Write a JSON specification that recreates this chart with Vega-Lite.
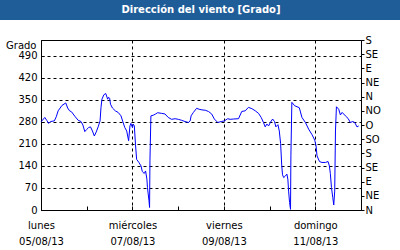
{
  "$schema": "https://vega.github.io/schema/vega-lite/v6.json",
  "padding": 0,
  "background": "white",
  "bounds": "flush",
  "center": true,
  "spacing": 20,
  "datasets": {
    "viento": [
      {"t": "2013-08-05T00:00", "v": 280}, {"t": "2013-08-05T02:00", "v": 294}, {"t": "2013-08-05T03:00", "v": 285},
      {"t": "2013-08-05T04:00", "v": 275}, {"t": "2013-08-05T05:00", "v": 281}, {"t": "2013-08-05T07:00", "v": 283},
      {"t": "2013-08-05T08:00", "v": 296}, {"t": "2013-08-05T09:00", "v": 315}, {"t": "2013-08-05T11:00", "v": 332},
      {"t": "2013-08-05T13:00", "v": 340}, {"t": "2013-08-05T14:00", "v": 324}, {"t": "2013-08-05T15:00", "v": 315},
      {"t": "2013-08-05T16:00", "v": 312}, {"t": "2013-08-05T18:00", "v": 296}, {"t": "2013-08-05T19:30", "v": 285},
      {"t": "2013-08-05T21:00", "v": 281}, {"t": "2013-08-05T22:00", "v": 270}, {"t": "2013-08-05T23:00", "v": 249},
      {"t": "2013-08-06T00:00", "v": 256}, {"t": "2013-08-06T01:00", "v": 262}, {"t": "2013-08-06T02:00", "v": 264},
      {"t": "2013-08-06T03:00", "v": 251}, {"t": "2013-08-06T04:00", "v": 235}, {"t": "2013-08-06T05:00", "v": 248},
      {"t": "2013-08-06T06:00", "v": 264}, {"t": "2013-08-06T07:00", "v": 283}, {"t": "2013-08-06T07:30", "v": 326},
      {"t": "2013-08-06T08:00", "v": 352}, {"t": "2013-08-06T09:00", "v": 366}, {"t": "2013-08-06T10:00", "v": 370},
      {"t": "2013-08-06T11:00", "v": 352}, {"t": "2013-08-06T11:30", "v": 358}, {"t": "2013-08-06T12:00", "v": 355},
      {"t": "2013-08-06T12:30", "v": 336}, {"t": "2013-08-06T13:30", "v": 324}, {"t": "2013-08-06T15:00", "v": 315},
      {"t": "2013-08-06T16:30", "v": 310}, {"t": "2013-08-06T18:00", "v": 299}, {"t": "2013-08-06T19:00", "v": 280},
      {"t": "2013-08-06T20:00", "v": 262}, {"t": "2013-08-06T21:00", "v": 251}, {"t": "2013-08-06T22:00", "v": 220},
      {"t": "2013-08-06T22:42", "v": 267}, {"t": "2013-08-06T23:12", "v": 275}, {"t": "2013-08-07T00:00", "v": 262},
      {"t": "2013-08-07T00:24", "v": 273}, {"t": "2013-08-07T01:00", "v": 267}, {"t": "2013-08-07T01:36", "v": 209},
      {"t": "2013-08-07T02:12", "v": 161}, {"t": "2013-08-07T03:24", "v": 151}, {"t": "2013-08-07T04:30", "v": 140},
      {"t": "2013-08-07T05:12", "v": 122}, {"t": "2013-08-07T06:12", "v": 116}, {"t": "2013-08-07T06:54", "v": 124},
      {"t": "2013-08-07T07:36", "v": 98}, {"t": "2013-08-07T07:54", "v": 71}, {"t": "2013-08-07T08:42", "v": 29},
      {"t": "2013-08-07T09:00", "v": 8}, {"t": "2013-08-07T09:12", "v": 156}, {"t": "2013-08-07T09:42", "v": 299},
      {"t": "2013-08-07T10:54", "v": 301}, {"t": "2013-08-07T12:12", "v": 305}, {"t": "2013-08-07T13:12", "v": 309},
      {"t": "2013-08-07T15:18", "v": 307}, {"t": "2013-08-07T17:06", "v": 305}, {"t": "2013-08-07T18:48", "v": 294},
      {"t": "2013-08-07T20:36", "v": 288}, {"t": "2013-08-07T22:24", "v": 290}, {"t": "2013-08-08T00:06", "v": 288},
      {"t": "2013-08-08T01:48", "v": 285}, {"t": "2013-08-08T03:36", "v": 281}, {"t": "2013-08-08T05:24", "v": 278},
      {"t": "2013-08-08T06:18", "v": 283}, {"t": "2013-08-08T06:48", "v": 299}, {"t": "2013-08-08T08:00", "v": 310},
      {"t": "2013-08-08T09:42", "v": 323}, {"t": "2013-08-08T11:00", "v": 320}, {"t": "2013-08-08T12:30", "v": 318},
      {"t": "2013-08-08T14:12", "v": 317}, {"t": "2013-08-08T15:54", "v": 313}, {"t": "2013-08-08T17:36", "v": 305},
      {"t": "2013-08-08T19:00", "v": 289}, {"t": "2013-08-08T20:48", "v": 278}, {"t": "2013-08-08T22:36", "v": 281},
      {"t": "2013-08-09T00:18", "v": 283}, {"t": "2013-08-09T02:00", "v": 290}, {"t": "2013-08-09T03:18", "v": 288},
      {"t": "2013-08-09T05:00", "v": 289}, {"t": "2013-08-09T07:42", "v": 290}, {"t": "2013-08-09T09:24", "v": 313},
      {"t": "2013-08-09T11:12", "v": 315}, {"t": "2013-08-09T12:54", "v": 326}, {"t": "2013-08-09T14:42", "v": 322},
      {"t": "2013-08-09T16:30", "v": 315}, {"t": "2013-08-09T18:12", "v": 307}, {"t": "2013-08-09T19:36", "v": 294},
      {"t": "2013-08-09T20:48", "v": 278}, {"t": "2013-08-09T21:42", "v": 264}, {"t": "2013-08-09T22:36", "v": 273},
      {"t": "2013-08-09T23:30", "v": 267}, {"t": "2013-08-10T00:24", "v": 278}, {"t": "2013-08-10T01:36", "v": 289},
      {"t": "2013-08-10T02:36", "v": 281}, {"t": "2013-08-10T03:18", "v": 264}, {"t": "2013-08-10T04:24", "v": 271},
      {"t": "2013-08-10T05:06", "v": 251}, {"t": "2013-08-10T05:48", "v": 211}, {"t": "2013-08-10T06:24", "v": 140},
      {"t": "2013-08-10T06:48", "v": 112}, {"t": "2013-08-10T07:24", "v": 103}, {"t": "2013-08-10T08:18", "v": 108},
      {"t": "2013-08-10T09:06", "v": 114}, {"t": "2013-08-10T09:36", "v": 98}, {"t": "2013-08-10T10:00", "v": 60},
      {"t": "2013-08-10T10:30", "v": 24}, {"t": "2013-08-10T11:00", "v": 2}, {"t": "2013-08-10T11:12", "v": 172},
      {"t": "2013-08-10T11:42", "v": 342}, {"t": "2013-08-10T13:12", "v": 331}, {"t": "2013-08-10T14:24", "v": 328},
      {"t": "2013-08-10T15:36", "v": 325}, {"t": "2013-08-10T17:00", "v": 294}, {"t": "2013-08-10T18:48", "v": 278},
      {"t": "2013-08-10T20:30", "v": 257}, {"t": "2013-08-10T22:18", "v": 239}, {"t": "2013-08-10T23:42", "v": 222},
      {"t": "2013-08-11T00:24", "v": 204}, {"t": "2013-08-11T00:54", "v": 172}, {"t": "2013-08-11T02:12", "v": 154},
      {"t": "2013-08-11T03:30", "v": 151}, {"t": "2013-08-11T05:18", "v": 151}, {"t": "2013-08-11T06:42", "v": 154},
      {"t": "2013-08-11T07:24", "v": 140}, {"t": "2013-08-11T07:54", "v": 116}, {"t": "2013-08-11T08:30", "v": 71},
      {"t": "2013-08-11T09:12", "v": 39}, {"t": "2013-08-11T09:42", "v": 16}, {"t": "2013-08-11T10:12", "v": 60},
      {"t": "2013-08-11T10:36", "v": 251}, {"t": "2013-08-11T11:06", "v": 328}, {"t": "2013-08-11T12:18", "v": 320},
      {"t": "2013-08-11T13:12", "v": 302}, {"t": "2013-08-11T14:06", "v": 310}, {"t": "2013-08-11T14:54", "v": 305},
      {"t": "2013-08-11T15:48", "v": 299}, {"t": "2013-08-11T17:12", "v": 291}, {"t": "2013-08-11T18:24", "v": 278},
      {"t": "2013-08-11T19:42", "v": 281}, {"t": "2013-08-11T20:42", "v": 278}, {"t": "2013-08-11T21:54", "v": 264},
      {"t": "2013-08-11T22:48", "v": 267}
    ]
  },
  "vconcat": [
    {
      "width": 402,
      "height": 20,
      "view": {"fill": "#1f5d99", "stroke": null},
      "data": {"values": [{"titulo": "Dirección del viento [Grado]"}]},
      "mark": {"type": "text", "color": "white", "font": "DejaVu Sans", "fontWeight": "bold", "fontSize": 10, "baseline": "middle", "align": "center"},
      "encoding": {"text": {"field": "titulo"}}
    },
    {
      "width": 320,
      "height": 170,
      "data": {"name": "viento"},
      "encoding": {
        "x": {
          "field": "t", "type": "temporal",
          "scale": {"domain": [{"year": 2013, "month": 8, "date": 5}, {"year": 2013, "month": 8, "date": 12}], "nice": false},
          "axis": {
            "title": null,
            "values": [
              {"year": 2013, "month": 8, "date": 5}, {"year": 2013, "month": 8, "date": 6},
              {"year": 2013, "month": 8, "date": 7}, {"year": 2013, "month": 8, "date": 8},
              {"year": 2013, "month": 8, "date": 9}, {"year": 2013, "month": 8, "date": 10},
              {"year": 2013, "month": 8, "date": 11}, {"year": 2013, "month": 8, "date": 12}
            ],
            "labelExpr": "date(datum.value) % 2 == 1 && date(datum.value) < 12 ? [['domingo','lunes','martes','miércoles','jueves','viernes','sábado'][day(datum.value)], timeFormat(datum.value, '%d/%m/%y')] : ''",
            "labelFlush": false,
            "labelOverlap": false,
            "labelLineHeight": 16,
            "labelPadding": 14,
            "tickSize": -4,
            "grid": true,
            "gridOpacity": {"condition": {"test": "date(datum.value) % 2 == 1", "value": 1}, "value": 0}
          }
        }
      },
      "layer": [
        {
          "mark": {"type": "line", "color": "#0000ff", "strokeWidth": 1},
          "encoding": {
            "y": {
              "field": "v", "type": "quantitative",
              "scale": {"domain": [0, 540], "nice": false},
              "axis": {
                "title": "Grado",
                "titleAngle": 0,
                "titleAlign": "right",
                "titleBaseline": "alphabetic",
                "titleX": -5,
                "titleY": 8,
                "values": [0, 70, 140, 210, 280, 350, 420, 490],
                "grid": true,
                "tickSize": -3,
                "labelPadding": 7
              }
            }
          }
        },
        {
          "mark": {"type": "line", "strokeOpacity": 0},
          "encoding": {
            "y": {
              "field": "v", "type": "quantitative",
              "scale": {"domain": [0, 540], "nice": false},
              "axis": {
                "orient": "right",
                "title": null,
                "values": [0, 45, 90, 135, 180, 225, 270, 315, 360, 405, 450, 495, 540],
                "labelExpr": "['N','NE','E','SE','S','SO','O','NO'][(datum.value / 45) % 8]",
                "grid": false,
                "tickSize": 3,
                "labelPadding": 1
              }
            }
          }
        }
      ],
      "resolve": {"scale": {"y": "independent"}}
    }
  ],
  "config": {
    "view": {"stroke": "black", "strokeWidth": 1},
    "axis": {
      "labelFont": "DejaVu Sans",
      "labelFontSize": 10,
      "labelColor": "black",
      "titleFont": "DejaVu Sans",
      "titleFontSize": 10,
      "titleFontWeight": "normal",
      "titleColor": "black",
      "domainColor": "black",
      "tickColor": "black",
      "gridColor": "black",
      "gridDash": [3, 3],
      "gridWidth": 1,
      "labelOverlap": false
    }
  }
}
